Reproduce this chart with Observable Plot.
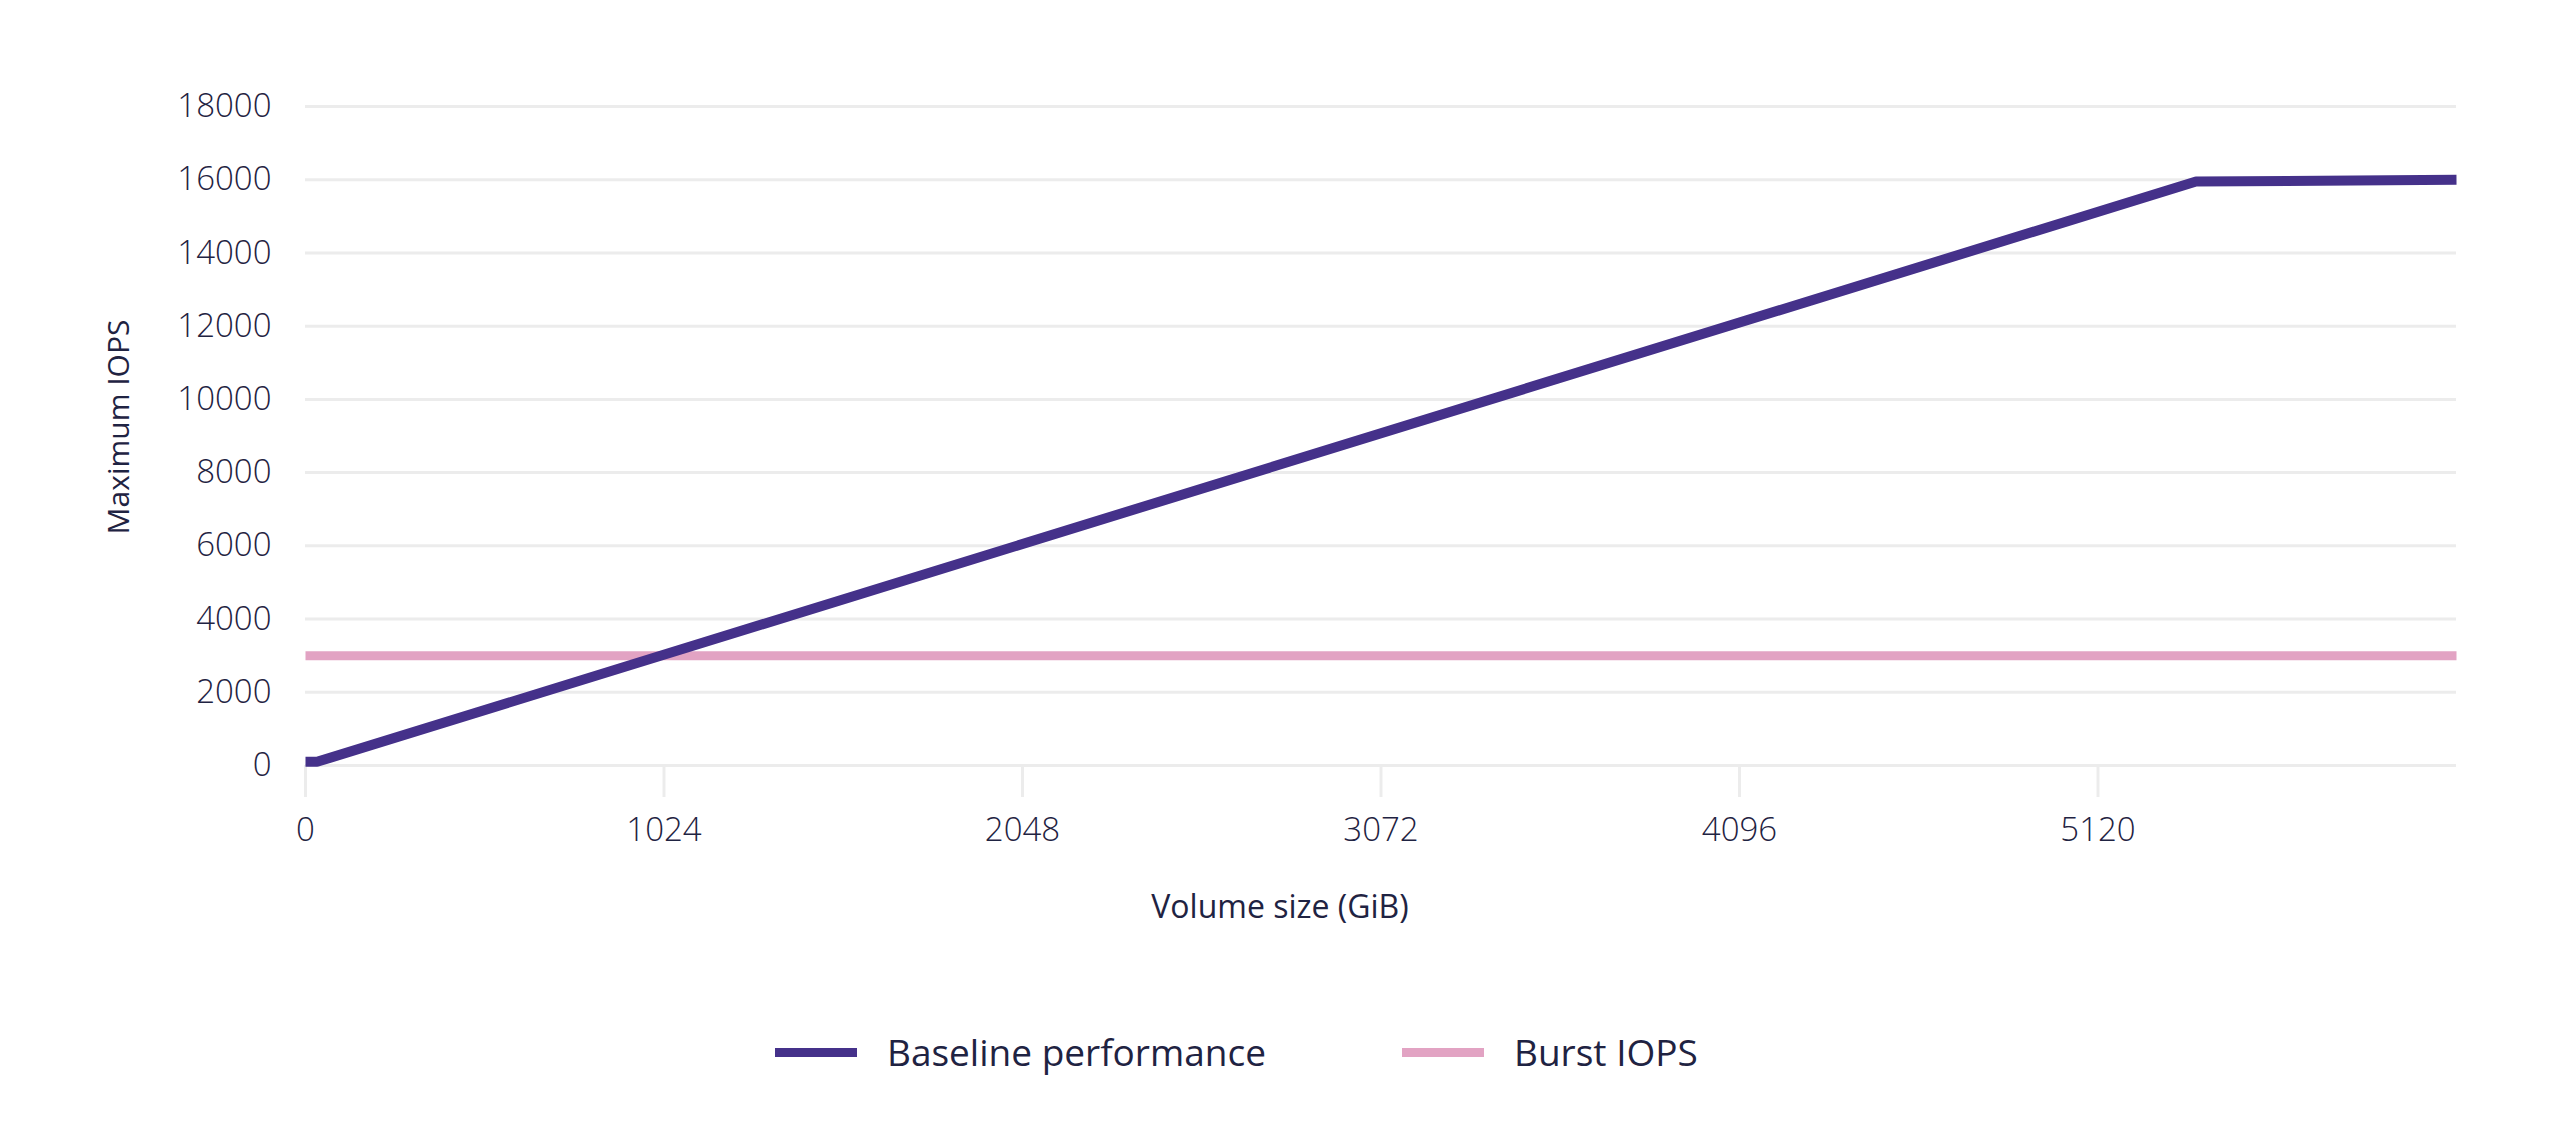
<!DOCTYPE html>
<html>
<head>
<meta charset="utf-8">
<script src="https://cdn.jsdelivr.net/npm/d3@7"></script>
<script src="https://cdn.jsdelivr.net/npm/@observablehq/plot@0.6"></script>
<style>
  html, body { margin: 0; padding: 0; background: #ffffff; }
  body { width: 2558px; height: 1148px; overflow: hidden; font-family: "Open Sans", "Noto Sans", sans-serif; color: #1f2342; }
  #chart svg { display: block; }
  .legend { position: relative; height: 188px; }
  .item { position: absolute; top: 70px; display: flex; align-items: center; height: 44px; }
  .swatch { width: 82px; height: 9px; }
  .label { font-size: 37px; margin-left: 30px; color: #1f2342; line-height: 44px; }
</style>
</head>
<body>
<div id="chart"></div>
<div class="legend">
  <div class="item" style="left:775px"><div class="swatch" style="background:#45318a"></div><div class="label">Baseline performance</div></div>
  <div class="item" style="left:1402px"><div class="swatch" style="background:#e2a3c3"></div><div class="label">Burst IOPS</div></div>
</div>
<script>
// Data
const baselineSize = [0, 33, 5400, 6144];      // GiB
const baselineIops = [100, 100, 15950, 16000]; // IOPS
const burstSize = [0, 6144];
const burstIops = [3000, 3000];
const xTicks = [0, 1024, 2048, 3072, 4096, 5120];
const yTicks = [0, 2000, 4000, 6000, 8000, 10000, 12000, 14000, 16000, 18000];
const xLabel = "Volume size (GiB)";
const yLabel = "Maximum IOPS";

const baseline = baselineSize.map((x, i) => ({x, y: baselineIops[i]}));
const burst = burstSize.map((x, i) => ({x, y: burstIops[i]}));

const textColor = "#1f2342";
const gridColor = "#ececec";

const chart = Plot.plot({
  width: 2558,
  height: 960,
  marginTop: 106,
  marginBottom: 195,
  marginLeft: 305,
  marginRight: 102,
  style: {fontFamily: "'Open Sans', 'Noto Sans', sans-serif", color: textColor, background: "#ffffff"},
  x: {domain: [0, 6144]},
  y: {domain: [0, 18000]},
  marks: [
    Plot.gridY(yTicks, {stroke: gridColor, strokeOpacity: 1, strokeWidth: 3}),
    Plot.axisX({ticks: xTicks, tickSize: 32, tickPadding: 20, stroke: gridColor, strokeOpacity: 1, strokeWidth: 3, fontSize: 33, fontWeight: 300, label: null, tickFormat: d => String(d), fill: textColor}),
    Plot.axisY({ticks: yTicks, tickSize: 0, tickPadding: 34, fontSize: 33, fontWeight: 300, label: null, tickFormat: d => String(d), fill: textColor}),
    Plot.line(burst, {x: "x", y: "y", stroke: "#e2a3c3", strokeWidth: 9, strokeLinecap: "butt"}),
    Plot.line(baseline, {x: "x", y: "y", stroke: "#45318a", strokeWidth: 10, strokeLinecap: "butt", strokeLinejoin: "miter"}),
    Plot.text([xLabel], {frameAnchor: "bottom", dx: -101, dy: 152, fontSize: 32, fill: textColor, text: d => d}),
    Plot.text([yLabel], {frameAnchor: "left", textAnchor: "middle", dx: -186, dy: -9, rotate: -90, fontSize: 30, fill: textColor, text: d => d})
  ]
});
document.getElementById("chart").appendChild(chart);
</script>
</body>
</html>
